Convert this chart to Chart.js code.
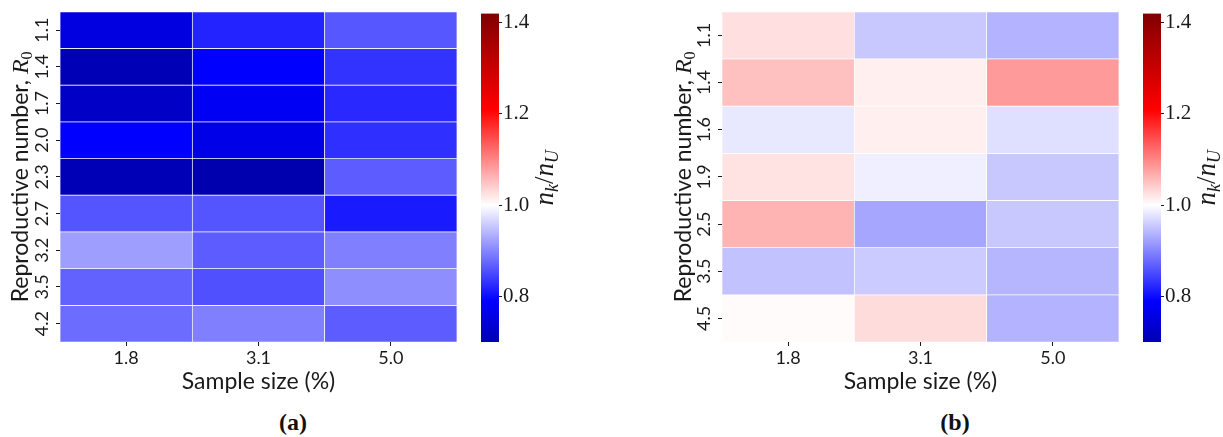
<!DOCTYPE html>
<html>
<head>
<meta charset="utf-8">
<script src="https://cdn.jsdelivr.net/npm/chart.js@4.4.0/dist/chart.umd.min.js"></script>
<style>
  body { margin: 0; background: #fff; width: 1223px; height: 437px; position: relative; overflow: hidden; }
  canvas { position: absolute; top: 0; }
  .cap { position: absolute; top: 409px; line-height: 28px; font: bold 24px "Liberation Serif", serif; color: #111; transform: translateX(-50%); }
</style>
</head>
<body>
<canvas id="heatA" width="470" height="400" style="left:0px"></canvas>
<canvas id="barA" width="110" height="360" style="left:470px"></canvas>
<canvas id="heatB" width="470" height="400" style="left:660px"></canvas>
<canvas id="barB" width="110" height="360" style="left:1132px"></canvas>
<div class="cap" style="left:293px">(a)</div>
<div class="cap" style="left:955px">(b)</div>
<script>
const sampleSizes = ['1.8', '3.1', '5.0'];

// panel (a)
const r0A = ['1.1', '1.4', '1.7', '2.0', '2.3', '2.7', '3.2', '3.5', '4.2'];
const ratioA_18 = [0.754, 0.705, 0.724, 0.790, 0.705, 0.860, 0.920, 0.871, 0.879];
const ratioA_31 = [0.819, 0.790, 0.778, 0.763, 0.695, 0.860, 0.867, 0.856, 0.895];
const ratioA_50 = [0.862, 0.832, 0.823, 0.829, 0.866, 0.811, 0.895, 0.907, 0.866];

// panel (b)
const r0B = ['1.1', '1.4', '1.6', '1.9', '2.5', '3.5', '4.5'];
const ratioB_18 = [1.026, 1.052, 0.981, 1.024, 1.062, 0.950, 1.003];
const ratioB_31 = [0.955, 1.013, 1.013, 0.987, 0.927, 0.957, 1.029];
const ratioB_50 = [0.937, 1.083, 0.974, 0.955, 0.955, 0.940, 0.937];

const cbTicks = [0.8, 1.0, 1.2, 1.4];
const vMin = 0.70, vMax = 1.42, vCenter = 1.0;

const sans = 'Lato, "Open Sans", sans-serif';
const serif = '"Liberation Serif", serif';
const ink = '#1a1a1a';

// matplotlib "seismic"
const seismicStops = [
  [0.0, [0, 0, 77]],
  [0.25, [0, 0, 255]],
  [0.5, [255, 255, 255]],
  [0.75, [255, 0, 0]],
  [1.0, [128, 0, 0]]
];

function seismic(f) {
  f = Math.min(1, Math.max(0, f));
  for (let i = 1; i < seismicStops.length; i++) {
    const [f0, c0] = seismicStops[i - 1];
    const [f1, c1] = seismicStops[i];
    if (f <= f1) {
      const t = (f - f0) / (f1 - f0);
      const c = c0.map((a, k) => Math.round(a + (c1[k] - a) * t));
      return `rgb(${c.join(',')})`;
    }
  }
}

const vRange = Math.max(vMax - vCenter, vCenter - vMin);
function cellColor(v) {
  return seismic(0.5 + (v - vCenter) / (2 * vRange));
}

// rotated text made of pieces (for subscripts), reads bottom to top
function drawRotated(ctx, parts, x, y) {
  ctx.save();
  ctx.translate(x, y);
  ctx.rotate(-Math.PI / 2);
  ctx.fillStyle = ink;
  ctx.textBaseline = 'alphabetic';
  let total = 0;
  parts.forEach(p => {
    ctx.font = p.font;
    p.w = ctx.measureText(p.text).width;
    total += p.w;
  });
  let cx = -total / 2;
  parts.forEach(p => {
    ctx.font = p.font;
    ctx.fillText(p.text, cx, p.dy);
    cx += p.w;
  });
  ctx.restore();
}

function yTitlePlugin(x) {
  return {
    id: 'yTitle',
    afterDraw(chart) {
      const { ctx, chartArea } = chart;
      drawRotated(ctx, [
        { text: 'Reproductive number, ', font: `23px ${sans}`, dy: 8 },
        { text: 'R', font: `italic 24px ${serif}`, dy: 8 },
        { text: '0', font: `16px ${serif}`, dy: 12 }
      ], x, (chartArea.top + chartArea.bottom) / 2);
    }
  };
}

function heatmap(id, rows, columns, yWidth, rightPad, titleX) {
  const datasets = rows.map((r, i) => ({
    label: r,
    data: columns.map(() => [i, i + 1]),
    backgroundColor: columns.map(col => cellColor(col[i])),
    borderColor: '#ffffff',
    borderWidth: 0.7,
    borderSkipped: false,
    grouped: false,
    barPercentage: 1,
    categoryPercentage: 1
  }));

  return new Chart(document.getElementById(id), {
    type: 'bar',
    data: { labels: sampleSizes, datasets },
    options: {
      responsive: false,
      animation: false,
      layout: { padding: { top: 11, right: rightPad, left: 0, bottom: 0 } },
      plugins: { legend: { display: false }, tooltip: { enabled: false } },
      scales: {
        x: {
          offset: true,
          grid: { offset: false, drawOnChartArea: false, drawTicks: true, tickLength: 4, color: ink },
          border: { display: false },
          ticks: { color: ink, font: { family: sans, size: 18 }, padding: 1 },
          title: {
            display: true,
            text: 'Sample size (%)',
            color: ink,
            font: { family: sans, size: 23 },
            padding: { top: 0, bottom: 5 }
          },
          afterFit: s => { s.height = 58; }
        },
        y: {
          min: 0,
          max: rows.length,
          reverse: true,
          afterBuildTicks: s => { s.ticks = rows.map((_, i) => ({ value: i + 0.5 })); },
          grid: { drawOnChartArea: false, drawTicks: true, tickLength: 4, color: ink },
          border: { display: false },
          ticks: {
            color: ink,
            font: { family: sans, size: 18 },
            padding: 1,
            minRotation: 90,
            maxRotation: 90,
            crossAlign: 'center',
            callback: (v, i) => rows[i]
          },
          afterFit: s => { s.width = yWidth; }
        }
      }
    },
    plugins: [yTitlePlugin(titleX)]
  });
}

const gradientPlugin = {
  id: 'cbFill',
  beforeDatasetsDraw(chart) {
    const { ctx, chartArea: a, scales: { y } } = chart;
    const g = ctx.createLinearGradient(0, y.getPixelForValue(vMin), 0, y.getPixelForValue(vMax));
    seismicStops.forEach(([f]) => {
      const v = vCenter + (f - 0.5) * 2 * vRange;
      if (v > vMin && v < vMax) g.addColorStop((v - vMin) / (vMax - vMin), seismic(f));
    });
    g.addColorStop(0, cellColor(vMin));
    g.addColorStop(1, cellColor(vMax));
    ctx.fillStyle = g;
    ctx.fillRect(a.left, a.top, a.right - a.left, a.bottom - a.top);
  }
};

const cbLabelPlugin = {
  id: 'cbLabel',
  afterDraw(chart) {
    const { ctx, chartArea } = chart;
    drawRotated(ctx, [
      { text: 'n', font: `italic 27px ${serif}`, dy: 7 },
      { text: 'k', font: `italic 18px ${serif}`, dy: 12 },
      { text: '/', font: `27px ${serif}`, dy: 7 },
      { text: 'n', font: `italic 27px ${serif}`, dy: 7 },
      { text: 'U', font: `italic 18px ${serif}`, dy: 12 }
    ], 76, (chartArea.top + chartArea.bottom) / 2);
  }
};

function colorbar(id) {
  return new Chart(document.getElementById(id), {
    type: 'scatter',
    data: { datasets: [] },
    options: {
      responsive: false,
      animation: false,
      layout: { padding: { left: 11, top: 11, bottom: 18, right: 0 } },
      plugins: { legend: { display: false }, tooltip: { enabled: false } },
      scales: {
        x: { display: false },
        y: {
          position: 'right',
          min: vMin,
          max: vMax,
          afterBuildTicks: s => { s.ticks = cbTicks.map(v => ({ value: v })); },
          grid: { drawOnChartArea: false, drawTicks: true, tickLength: 3, color: ink },
          border: { display: false },
          ticks: {
            color: ink,
            font: { family: serif, size: 21 },
            padding: 1,
            callback: v => v.toFixed(1)
          },
          afterFit: s => { s.width = 81; }
        }
      }
    },
    plugins: [gradientPlugin, cbLabelPlugin]
  });
}

heatmap('heatA', r0A, [ratioA_18, ratioA_31, ratioA_50], 60, 13, 20);
heatmap('heatB', r0B, [ratioB_18, ratioB_31, ratioB_50], 62, 11, 23);
colorbar('barA');
colorbar('barB');
</script>
</body>
</html>
